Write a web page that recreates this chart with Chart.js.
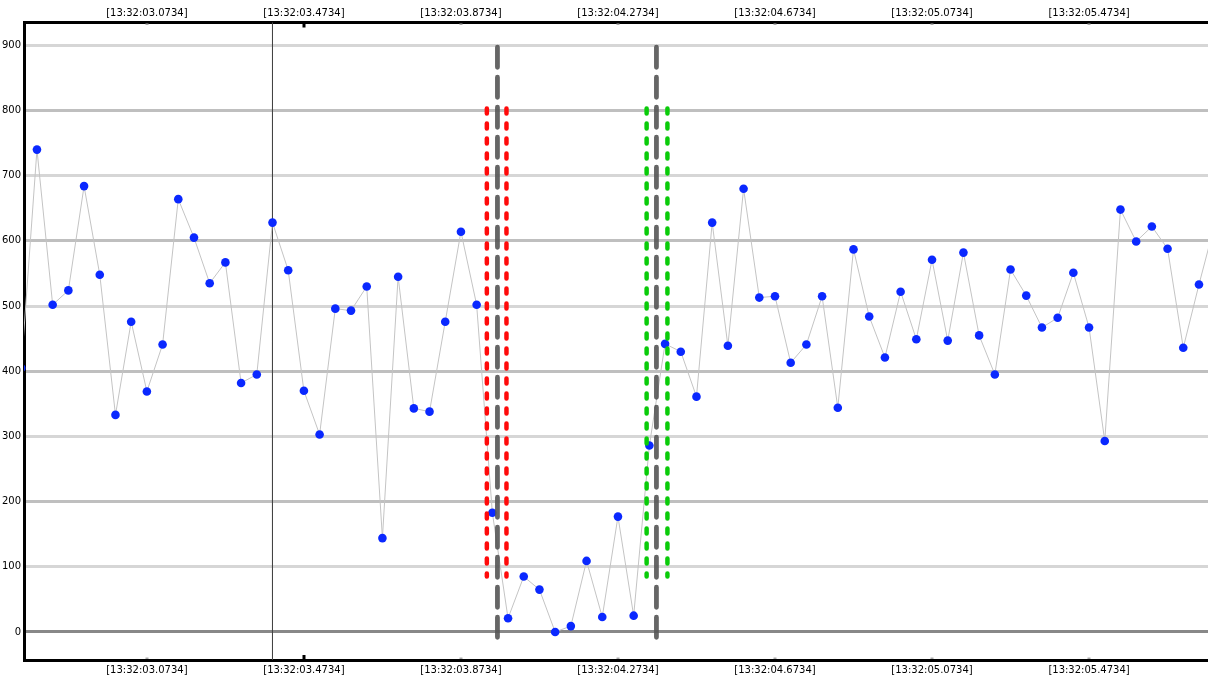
<!DOCTYPE html>
<html>
<head>
<meta charset="utf-8">
<script src="https://cdn.jsdelivr.net/npm/chart.js@4/dist/chart.umd.min.js"></script>
<style>
html,body{margin:0;padding:0;background:#fff;overflow:hidden;}
#wrap{width:1208px;height:682px;position:relative;}
</style>
</head>
<body>
<div id="wrap"><canvas id="c"></canvas></div>
<script>
// sample times in ms relative to 13:32:03.0734
const sampleTimes = [-320,-280,-240,-200,-160,-120,-80,-40,0,40,80,120,160,200,240,280,320,360,400,440,480,520,560,600,640,680,720,760,800,840,880,920,960,1000,1040,1080,1120,1160,1200,1240,1280,1320,1360,1400,1440,1480,1520,1560,1600,1640,1680,1720,1760,1800,1840,1880,1920,1960,2000,2040,2080,2120,2160,2200,2240,2280,2320,2360,2400,2440,2480,2520,2560,2600,2640,2680,2720];
const sampleValues = [405,740,502,524,684,548,333,476,369,441,664,605,535,567,382,395,628,555,370,303,496,493,530,144,545,343,338,476,614,502,183,21,85,65,0,9,109,23,177,25,286,442,430,361,628,439,680,513,515,413,441,515,344,587,484,421,522,449,571,447,582,455,395,556,516,467,482,551,467,293,648,599,622,588,436,533,625];

const xTickValues = [0,400,800,1200,1600,2000,2400];
const xTickLabels = ['[13:32:03.0734]','[13:32:03.4734]','[13:32:03.8734]','[13:32:04.2734]','[13:32:04.6734]','[13:32:05.0734]','[13:32:05.4734]'];
const yTickValues = [0,100,200,300,400,500,600,700,800,900];

const cursorTime = 320;
const markedTick = 400;
const grayMarkerTimes = [893, 1298];
const grayMarkerRange = [897, -9];
const redMarkerTimes = [866, 916];
const greenMarkerTimes = [1273, 1326];
const colorMarkerRange = [803, 85];

const X_MIN = -313, X_MAX = 2703, Y_MIN = -43, Y_MAX = 935;

const datasets = [];
datasets.push({
  label: 'cursor',
  data: [{x: cursorTime, y: Y_MAX}, {x: cursorTime, y: Y_MIN}],
  borderColor: '#444', borderWidth: 1, pointRadius: 0, order: 3
});
datasets.push({
  label: 'values',
  data: sampleTimes.map((t, i) => ({x: t, y: sampleValues[i]})),
  borderColor: '#c4c4c4', borderWidth: 1,
  pointRadius: 4.3, pointBackgroundColor: '#0a28ff', pointBorderWidth: 0,
  pointHoverRadius: 4.3, order: 2
});
function marker(t, range, color, dash, width) {
  return {
    label: 'm', data: [{x: t, y: range[0]}, {x: t, y: range[1]}],
    borderColor: color, borderWidth: width, borderDash: dash, borderCapStyle: 'round',
    pointRadius: 0, order: 0
  };
}
redMarkerTimes.forEach(t => datasets.push(marker(t, colorMarkerRange, '#ff0a0a', [5, 10], 4.5)));
greenMarkerTimes.forEach(t => datasets.push(marker(t, colorMarkerRange, '#0acb0a', [5, 10], 4.5)));
grayMarkerTimes.forEach(t => datasets.push(marker(t, grayMarkerRange, 'rgba(85,85,85,0.9)', [20, 10], 4.8)));

const font = {family: 'DejaVu Sans', size: 10};
function xAxis(pos, height, pad) {
  return {
    type: 'linear', position: pos, min: X_MIN, max: X_MAX,
    afterBuildTicks: s => { s.ticks = xTickValues.map(v => ({value: v})); },
    afterFit: s => { s.height = height; },
    ticks: {
      autoSkip: false, maxRotation: 0, minRotation: 0, padding: pad, color: '#000', font,
      callback: v => xTickLabels[xTickValues.indexOf(v)]
    },
    grid: {display: true, drawOnChartArea: false, drawTicks: false, color: 'rgba(0,0,0,0)', lineWidth: 0},
    border: {display: true, color: '#000', width: 3}
  };
}

const tickMarks = {
  id: 'tickMarks',
  afterDatasetsDraw(chart) {
    const ctx = chart.ctx, xs = chart.scales.x, a = chart.chartArea;
    ctx.save();
    xTickValues.forEach(v => {
      const px = Math.round(xs.getPixelForValue(v));
      if (v === markedTick) {
        ctx.fillStyle = '#000';
        ctx.fillRect(px - 1.5, a.top, 3, 5);
        ctx.fillRect(px - 1.5, a.bottom - 5, 3, 5);
      } else {
        ctx.fillStyle = '#aaa';
        ctx.fillRect(px - 1.5, a.top + 1, 3, 1.5);
        ctx.fillRect(px - 1.5, a.bottom - 2.5, 3, 1.5);
      }
    });
    ctx.restore();
  }
};

new Chart(document.getElementById('c'), {
  type: 'line',
  data: {datasets},
  plugins: [tickMarks],
  options: {
    responsive: true, maintainAspectRatio: false, animation: false,
    layout: {padding: 0, autoPadding: false},
    plugins: {legend: {display: false}, tooltip: {enabled: false}},
    events: [],
    scales: {
      x: xAxis('bottom', 22, 4),
      x2: xAxis('top', 22.5, 3),
      y: {
        type: 'linear', position: 'left', min: Y_MIN, max: Y_MAX,
        afterBuildTicks: s => { s.ticks = yTickValues.map(v => ({value: v})); },
        afterFit: s => { s.width = 24; },
        ticks: {padding: 3, color: '#000', font, callback: v => String(v)},
        grid: {
          drawTicks: false, lineWidth: 3,
          color: c => {
            const v = c.tick ? c.tick.value : 1;
            if (v === 0) return '#888888';
            return (v / 100) % 2 === 1 ? '#d6d6d6' : '#bfbfbf';
          }
        },
        border: {display: true, color: '#000', width: 3}
      }
    }
  }
});
</script>
</body>
</html>
